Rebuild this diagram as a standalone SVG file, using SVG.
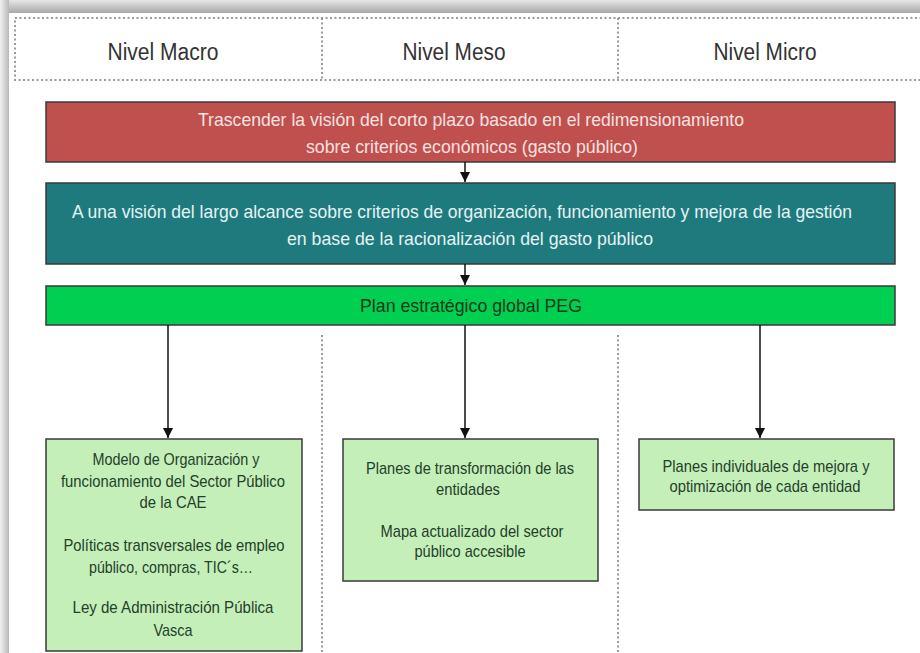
<svg xmlns="http://www.w3.org/2000/svg" width="920" height="653" viewBox="0 0 920 653">
  <defs>
    <linearGradient id="shTop" x1="0" y1="0" x2="0" y2="1">
      <stop offset="0" stop-color="#e6e6e6"/>
      <stop offset="1" stop-color="#a8a8a8"/>
    </linearGradient>
    <linearGradient id="shLeft" x1="0" y1="0" x2="1" y2="0">
      <stop offset="0" stop-color="#f2f2f2"/>
      <stop offset="1" stop-color="#b8b8b8"/>
    </linearGradient>
    <marker id="arr" viewBox="0 0 10 10" refX="10" refY="5" markerWidth="10" markerHeight="10" markerUnits="userSpaceOnUse" orient="auto">
      <path d="M0,0 L10,5 L0,10 z" fill="#111"/>
    </marker>
    <style>
      text { font-family: "Liberation Sans", Arial, sans-serif; text-anchor: middle; }
      .hdr { font-size: 23px; fill: #333; }
      .dot { fill: none; stroke: #9a9a9a; stroke-width: 2; stroke-dasharray: 2 2.5; }
      .box { stroke: #3a3a3a; stroke-width: 1.5; }
      .red { fill: #C0504D; }
      .teal { fill: #1F7A7E; }
      .green { fill: #00CF52; }
      .lg { fill: #C5EFB9; }
      .tRed { font-size: 19px; fill: #F6E2E1; }
      .tTeal { font-size: 18.5px; fill: #E4F3F3; }
      .tGreen { font-size: 19px; fill: #123a18; }
      .tSm { font-size: 17px; fill: #23402a; }
      .conn line { stroke: #111; stroke-width: 1.5; }
    </style>
  </defs>

  <rect x="0" y="0" width="920" height="653" fill="#ffffff"/>
  <rect x="0" y="0" width="920" height="13" fill="url(#shTop)"/>
  <rect x="0" y="0" width="9" height="653" fill="url(#shLeft)"/>

  <g id="header">
    <rect class="dot" x="15" y="18" width="910" height="62"/>
    <line class="dot" x1="322" y1="18" x2="322" y2="80"/>
    <line class="dot" x1="618" y1="18" x2="618" y2="80"/>
    <text class="hdr" x="163" y="60" textLength="111" lengthAdjust="spacingAndGlyphs">Nivel Macro</text>
    <text class="hdr" x="454" y="60" textLength="103" lengthAdjust="spacingAndGlyphs">Nivel Meso</text>
    <text class="hdr" x="765" y="60" textLength="103" lengthAdjust="spacingAndGlyphs">Nivel Micro</text>
  </g>

  <g id="dividers">
    <line class="dot" x1="322" y1="335" x2="322" y2="653"/>
    <line class="dot" x1="618" y1="335" x2="618" y2="653"/>
  </g>

  <g id="n-red">
    <rect class="box red" x="46" y="102" width="849" height="60"/>
    <text class="tRed" x="471" y="126" textLength="546" lengthAdjust="spacingAndGlyphs">Trascender la visión del corto plazo basado en el redimensionamiento</text>
    <text class="tRed" x="472" y="153" textLength="332" lengthAdjust="spacingAndGlyphs">sobre criterios económicos (gasto público)</text>
  </g>

  <g id="n-teal">
    <rect class="box teal" x="46" y="183" width="849" height="81"/>
    <text class="tTeal" x="462" y="218" textLength="780" lengthAdjust="spacingAndGlyphs">A una visión del largo alcance sobre criterios de organización, funcionamiento y mejora de la gestión</text>
    <text class="tTeal" x="470" y="245" textLength="366" lengthAdjust="spacingAndGlyphs">en base de la racionalización  del gasto público</text>
  </g>

  <g id="n-peg">
    <rect class="box green" x="46" y="286" width="849" height="39"/>
    <text class="tGreen" x="471" y="312" textLength="222" lengthAdjust="spacingAndGlyphs">Plan estratégico global PEG</text>
  </g>

  <g id="n-macro">
    <rect class="box lg" x="46" y="439" width="256" height="212"/>
    <text class="tSm" x="176" y="465" textLength="167" lengthAdjust="spacingAndGlyphs">Modelo de Organización y</text>
    <text class="tSm" x="173" y="487" textLength="224" lengthAdjust="spacingAndGlyphs">funcionamiento del Sector Público</text>
    <text class="tSm" x="173" y="508" textLength="67" lengthAdjust="spacingAndGlyphs">de la CAE</text>
    <text class="tSm" x="174" y="551" textLength="221" lengthAdjust="spacingAndGlyphs">Políticas transversales de empleo</text>
    <text class="tSm" x="171" y="573" textLength="164" lengthAdjust="spacingAndGlyphs">público, compras, TIC´s…</text>
    <text class="tSm" x="173" y="613" textLength="201" lengthAdjust="spacingAndGlyphs">Ley de Administración Pública</text>
    <text class="tSm" x="173" y="636" textLength="39" lengthAdjust="spacingAndGlyphs">Vasca</text>
  </g>

  <g id="n-meso">
    <rect class="box lg" x="343" y="439" width="255" height="142"/>
    <text class="tSm" x="470" y="474" textLength="208" lengthAdjust="spacingAndGlyphs">Planes de transformación de las</text>
    <text class="tSm" x="468" y="495" textLength="64" lengthAdjust="spacingAndGlyphs">entidades</text>
    <text class="tSm" x="472" y="537" textLength="183" lengthAdjust="spacingAndGlyphs">Mapa actualizado del sector</text>
    <text class="tSm" x="470" y="557" textLength="111" lengthAdjust="spacingAndGlyphs">público accesible</text>
  </g>

  <g id="n-micro">
    <rect class="box lg" x="639" y="439" width="255" height="71"/>
    <text class="tSm" x="766" y="472" textLength="207" lengthAdjust="spacingAndGlyphs">Planes individuales de mejora y</text>
    <text class="tSm" x="765" y="492" textLength="191" lengthAdjust="spacingAndGlyphs">optimización de cada entidad</text>
  </g>

  <g id="connectors" class="conn">
    <line x1="465" y1="162" x2="465" y2="182" marker-end="url(#arr)"/>
    <line x1="465" y1="264" x2="465" y2="285" marker-end="url(#arr)"/>
    <line x1="168" y1="325" x2="168" y2="438" marker-end="url(#arr)"/>
    <line x1="465" y1="325" x2="465" y2="438" marker-end="url(#arr)"/>
    <line x1="760" y1="325" x2="760" y2="438" marker-end="url(#arr)"/>
  </g>
</svg>
